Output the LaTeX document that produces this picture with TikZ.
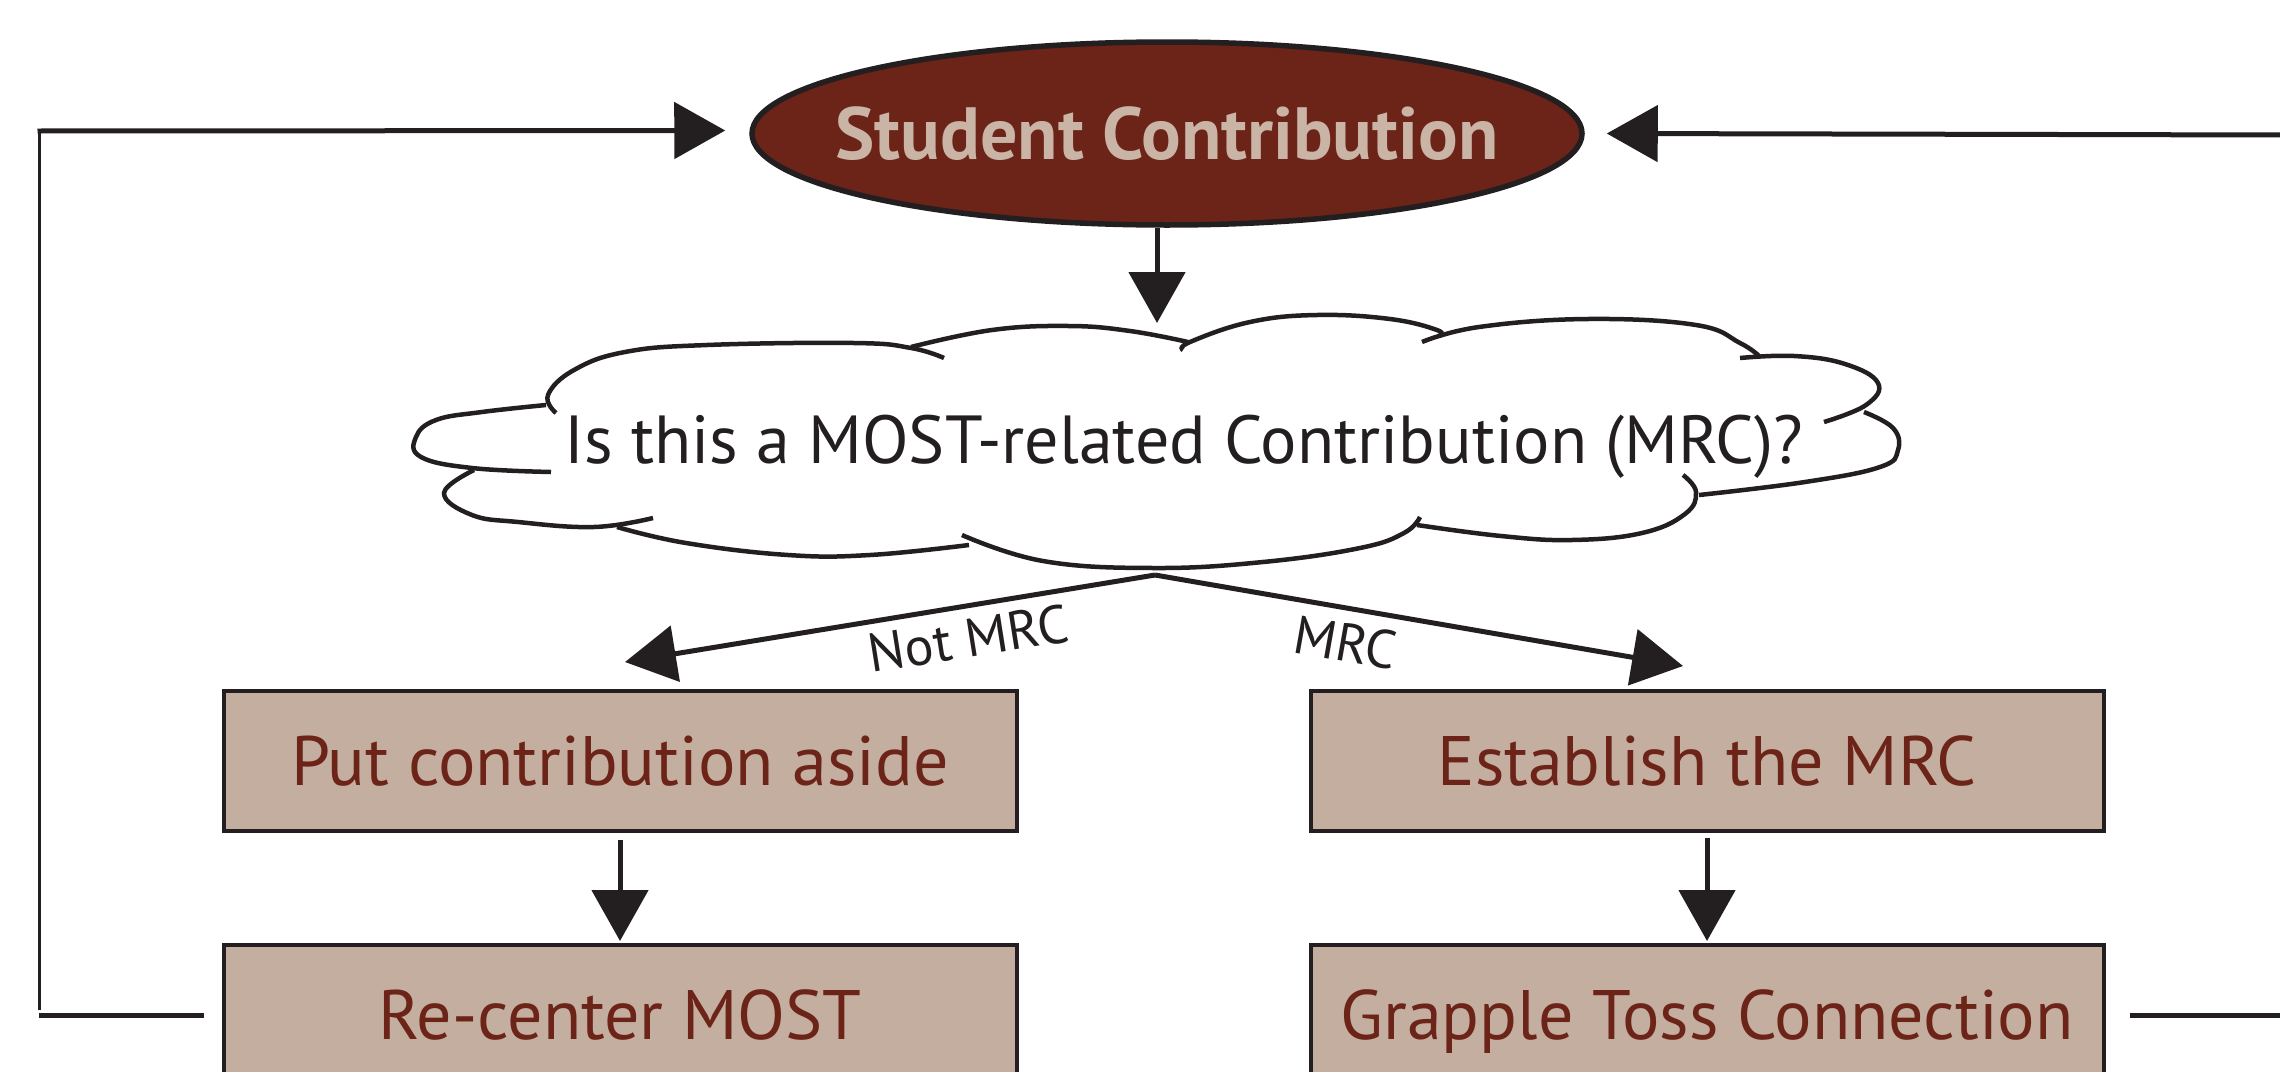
\documentclass[tikz,border=0pt]{standalone}
\usepackage{fontspec}
\setmainfont{PT Sans}
\usetikzlibrary{arrows.meta,shapes.geometric,calc}
\definecolor{maroon}{HTML}{6C2318}
\definecolor{tanbox}{HTML}{C4AE9F}
\definecolor{ink}{HTML}{231F20}
\definecolor{pale}{HTML}{C9B4A5}
\begin{document}
\begin{tikzpicture}[x=1pt,y=-1pt,
  conn/.style={draw=ink,line width=5pt},
  arr/.style={conn,-{Triangle[length=51pt,width=56pt]}},
  box/.style={draw=ink,line width=4pt,fill=tanbox,text=maroon,minimum width=793pt,minimum height=140pt,
    font=\fontsize{70}{80}\selectfont,text height=49pt,text depth=0pt,inner sep=0pt},
  oval/.style={ellipse,draw=ink,line width=5.5pt,fill=maroon,text=pale,minimum width=830pt,minimum height=183pt,
    inner xsep=-200pt,inner ysep=0pt,font=\bfseries\fontsize{74}{80}\selectfont,text height=52pt,text depth=0pt},
  cloudline/.style={draw=ink,line width=4.5pt},
  qtext/.style={font=\fontsize{68}{80}\selectfont,text=ink,inner sep=0pt,anchor=base},
  lbl/.style={font=\fontsize{54}{60}\selectfont,text=ink,inner sep=0pt,anchor=base},
]
\useasboundingbox (0,0) rectangle (2280,1071);
\clip (0,0) rectangle (2280,1071);

% nodes
\node[oval] (ell) at (1167,133.5) {Student Contribution};
\node[qtext] (q) at (1184,463) {Is this a MOST-related Contribution (MRC)?};
\node[box] (b1) at (620,761) {Put contribution aside};
\node[box] (b2) at (1707,761) {Establish the MRC};
\node[box] (b3) at (620,1015) {Re-center MOST};
\node[box] (b4) at (1707,1015) {Grapple Toss Connection};

% cloud outline
\begin{scope}[cloudline]
\draw plot[smooth,tension=0.7] coordinates {(556,413) (548,395) (574,370) (625,352) (707,345) (854,343) (911,348) (944,358)};
\draw plot[smooth,tension=0.7] coordinates {(911,347) (992,330) (1069,326) (1130,331) (1188,342)};
\draw plot[smooth,tension=0.7] coordinates {(1183,350) (1190,342) (1250,322) (1317,315) (1390,319) (1437,330) (1439,336)};
\draw plot[smooth,tension=0.7] coordinates {(1422,342) (1479,327) (1588,319) (1696,325) (1740,343) (1759,356)};
\draw plot[smooth,tension=0.7] coordinates {(1740,358) (1794,356) (1845,364) (1878,383) (1866,405) (1824,422)};
\draw plot[smooth,tension=0.7] coordinates {(1864,412) (1893,428) (1898,450) (1880,467) (1805,482) (1699,495)};
\draw plot[smooth,tension=0.7] coordinates {(1683,475) (1696,492) (1685,514) (1642,533) (1572,540) (1501,536) (1417,525)};
\draw plot[smooth,tension=0.7] coordinates {(1420,517) (1404,533) (1360,548) (1263,562) (1154,568) (1043,561) (962,535)};
\draw plot[smooth,tension=0.7] coordinates {(969,545) (870,555) (788,555) (686,543) (617,527)};
\draw plot[smooth,tension=0.7] coordinates {(653,518) (594,527) (518,522) (472,515) (444,493) (474,470)};
\draw plot[smooth,tension=0.7] coordinates {(551,472) (472,468) (421,457) (416,437) (436,420) (482,412) (546,405)};
\end{scope}

% coordinates
\coordinate (qt) at (1157,323);
\coordinate (qb) at (1155,575);
\coordinate (lc) at (39,131);
\coordinate (lb) at (39,1010);
\coordinate (rt) at (2285,135);
\coordinate (rb) at (2285,1020);

% connectors
\draw[arr] (ell.south -| qt) -- (qt);
\draw[arr] (qb) -- ([xshift=5pt,yshift=27pt]b1.north);
\draw[arr] (qb) -- ([xshift=-24pt,yshift=23pt]b2.north);
\draw[arr] ([yshift=-7pt]b1.south) -- ([yshift=2pt]b3.north);
\draw[arr] ([yshift=-5pt]b2.south) -- ([yshift=2pt]b4.north);
\draw[draw=ink,line width=3pt] (lb) -- (lc);
\draw[arr] ([xshift=-1.5pt]lc) -- ([xshift=-24pt,yshift=3pt]ell.west);
\draw[arr] (rt) -- ([xshift=22pt]ell.east);
\draw[conn] ([xshift=-18pt]b3.west) -- (b3.west -| lb);
\draw[conn] ([xshift=24pt]b4.east) -- (b4.east -| rb);

% labels
\node[lbl,rotate=9] (l1) at (971,657) {Not MRC};
\node[lbl,rotate=-10] (l2) at (1342,661) {MRC};
\end{tikzpicture}
\end{document}
